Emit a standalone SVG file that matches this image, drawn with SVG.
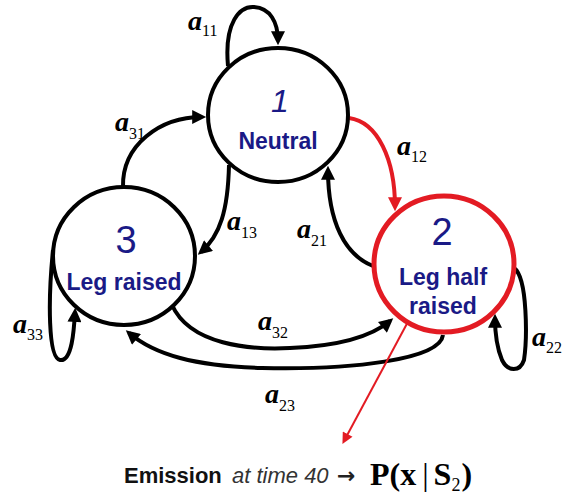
<svg xmlns="http://www.w3.org/2000/svg" width="576" height="495" viewBox="0 0 576 495">
<defs>
<style>
.node{fill:#fff;stroke:#000;stroke-width:4}
.red{fill:#fff;stroke:#e31b23;stroke-width:5}
.e{fill:none;stroke:#000;stroke-width:4}
.er{fill:none;stroke:#e31b23;stroke-width:4}
.num{font-family:"Liberation Sans",Arial,sans-serif;fill:#1a1a86}
.lbl{font-family:"Liberation Sans",Arial,sans-serif;font-weight:bold;font-size:23px;fill:#1a1a86;text-anchor:middle}
.a{font-family:"Liberation Serif","Times New Roman",serif;font-weight:bold;font-style:italic;font-size:28px;fill:#000}
.sub{font-style:normal;font-weight:normal;font-size:16px}
</style>
<marker id="ah" viewBox="0 0 10 10" refX="7" refY="5" markerWidth="15" markerHeight="14" markerUnits="userSpaceOnUse" orient="auto"><path d="M0,0 L10,5 L0,10 z" fill="#000"/></marker>
<marker id="ahr" viewBox="0 0 10 10" refX="7" refY="5" markerWidth="15" markerHeight="14" markerUnits="userSpaceOnUse" orient="auto"><path d="M0,0 L10,5 L0,10 z" fill="#e31b23"/></marker>
<marker id="ahr2" viewBox="0 0 10 10" refX="7" refY="5" markerWidth="12" markerHeight="11" markerUnits="userSpaceOnUse" orient="auto"><path d="M0,0 L10,5 L0,10 z" fill="#e31b23"/></marker>
</defs>
<rect width="576" height="495" fill="#fff"/>
<g id="connectors">
<path class="e" d="M228,66 C224,22 240,6 254,7 C270,8 278,22 278,41" marker-end="url(#ah)"/>
<path class="e" d="M123,187 C122,145 160,117 202,117" marker-end="url(#ah)"/>
<path class="e" d="M229,165 C228,210 220,236 201,252" marker-end="url(#ah)"/>
<path class="e" d="M373,266 C345,255 328,222 328,170" marker-end="url(#ah)"/>
<path class="er" d="M349,118 C378,122 395,160 395,207" marker-end="url(#ahr)"/>
<path class="e" d="M172,305 C190,345 250,350 290,348 C340,346 372,336 390,321" marker-end="url(#ah)"/>
<path class="e" d="M443,335 C440,360 350,370 262,368 C195,366 155,355 129,333" marker-end="url(#ah)"/>
<path class="e" d="M53,250 C48,300 48,358 60,360 C72,362 74,330 75,312" marker-end="url(#ah)"/>
<path class="e" d="M514,268 C528,278 527,340 524,360 C520,372 508,372 502,360 C497,348 495,330 495,318" marker-end="url(#ah)"/>
<path fill="none" stroke="#e31b23" stroke-width="2" d="M410,318 L344,441" marker-end="url(#ahr2)"/>
</g>
<g id="labels">
<text class="a" x="188" y="30">a<tspan class="sub" dy="6">11</tspan></text>
<text class="a" x="115" y="131">a<tspan class="sub" dy="8">31</tspan></text>
<text class="a" x="397" y="155">a<tspan class="sub" dy="7">12</tspan></text>
<text class="a" x="297" y="238">a<tspan class="sub" dy="8">21</tspan></text>
<text class="a" x="227" y="230">a<tspan class="sub" dy="8">13</tspan></text>
<text class="a" x="258" y="330">a<tspan class="sub" dy="8">32</tspan></text>
<text class="a" x="265" y="403">a<tspan class="sub" dy="8">23</tspan></text>
<text class="a" x="13" y="333">a<tspan class="sub" dy="7">33</tspan></text>
<text class="a" x="532" y="346">a<tspan class="sub" dy="7">22</tspan></text>
</g>
<g id="node1">
<ellipse class="node" cx="278" cy="115" rx="70" ry="67"/>
<text class="num" x="280" y="112" font-size="32" font-style="italic" text-anchor="middle">1</text>
<text class="lbl" x="278" y="149">Neutral</text>
</g>
<g id="node3">
<ellipse class="node" cx="124" cy="256" rx="71" ry="69"/>
<text class="num" x="126" y="253" font-size="38" text-anchor="middle">3</text>
<text class="lbl" x="124" y="290">Leg raised</text>
</g>
<g id="node2">
<ellipse class="red" cx="444" cy="264" rx="70" ry="68"/>
<text class="num" x="442" y="245" font-size="38" text-anchor="middle">2</text>
<text class="lbl" x="443" y="285">Leg half</text>
<text class="lbl" x="443" y="314">raised</text>
</g>
<g id="emission">
<text x="124" y="483" font-family="Liberation Sans,Arial,sans-serif" font-size="22"><tspan font-weight="bold" fill="#111">Emission</tspan><tspan x="232" font-style="italic" fill="#333">at time 40</tspan><tspan x="337" font-family="DejaVu Sans,sans-serif" font-size="22" font-weight="bold" fill="#222">→</tspan></text>
<text x="370" y="485" font-family="Liberation Serif,Times New Roman,serif" font-size="32" font-weight="bold" fill="#000">P(x<tspan dx="6" font-weight="normal">|</tspan><tspan dx="5">S</tspan><tspan font-size="18" font-weight="normal" dy="6">2</tspan><tspan dx="1" dy="-6">)</tspan></text>
</g>
</svg>
